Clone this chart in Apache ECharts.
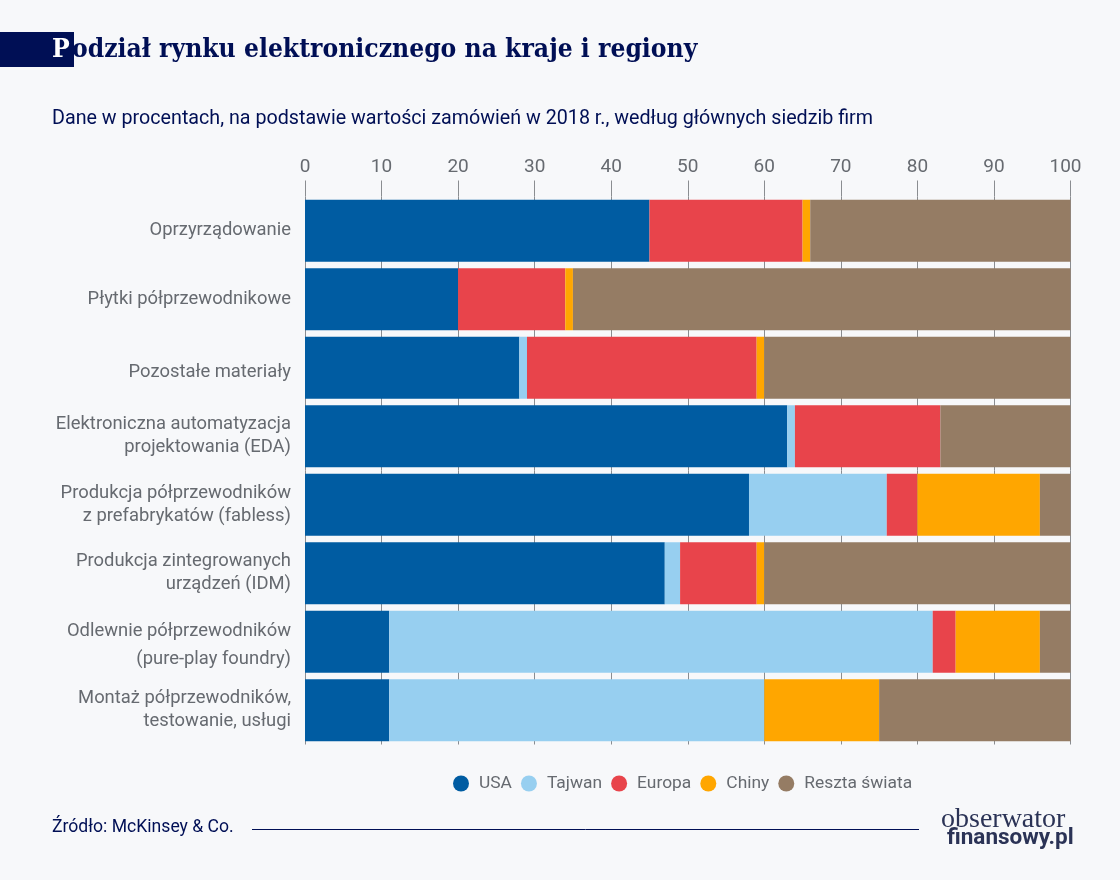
<!DOCTYPE html>
<html lang="pl">
<head>
<meta charset="utf-8">
<title>Podział rynku elektronicznego</title>
<script src="https://cdn.jsdelivr.net/npm/echarts@6/dist/echarts.min.js"></script>
<style>
  html, body { margin: 0; padding: 0; background: #f7f8fa; }
  #chart { width: 1120px; height: 880px; }
</style>
</head>
<body>
<div id="chart"></div>
<script>
// dane
const categories = [
  'Oprzyrządowanie',
  'Płytki półprzewodnikowe',
  'Pozostałe materiały',
  'Elektroniczna automatyzacja\nprojektowania (EDA)',
  'Produkcja półprzewodników\nz prefabrykatów (fabless)',
  'Produkcja zintegrowanych\nurządzeń (IDM)',
  'Odlewnie półprzewodników\n(pure-play foundry)',
  'Montaż półprzewodników,\ntestowanie, usługi'
];
const usa    = [45, 20, 28, 63, 58, 47, 11, 11];
const tajwan = [0, 0, 1, 1, 18, 2, 71, 49];
const europa = [20, 14, 30, 19, 4, 10, 3, 0];
const chiny  = [1, 1, 1, 0, 16, 1, 11, 15];
const reszta = [34, 65, 40, 17, 4, 40, 4, 25];

const SANS = 'Roboto, sans-serif';
const SERIF = '"DejaVu Serif Condensed", "DejaVu Serif", serif';
const NAVY = '#000f55';
const GREY = '#666a70';
const LABEL_SIZE = 18.4;

const makeSeries = (name, data, color) => ({
  name,
  type: 'bar',
  stack: 'total',
  barWidth: 62,
  data,
  itemStyle: { color },
  silent: true,
  animation: false
});

// etykiety osi: w oryginale dwie z nich stoją niżej niż środek słupka
const formatCategory = v => {
  if (v.startsWith('Odlewnie')) {
    const [a, b] = v.split('\n');
    return '{wideTop|' + a + '}\n{wide|' + b + '}';
  }
  if (v.startsWith('Pozostałe')) return '{low|' + v + '}';
  return '{norm|' + v.split('\n').join('}\n{norm|') + '}';
};

const labelRich = (lineHeight, padding) => ({
  fontFamily: SANS, fontSize: LABEL_SIZE, lineHeight, color: GREY, padding
});

const chart = echarts.init(document.getElementById('chart'), null, { renderer: 'canvas' });

chart.setOption({
  backgroundColor: '#f7f8fa',
  animation: false,
  grid: { left: 305, right: 49.5, top: 196.5, height: 548 },
  legend: {
    top: 770,
    left: 448,
    itemWidth: 16,
    itemHeight: 16,
    itemGap: 9,
    icon: 'circle',
    textStyle: { fontFamily: SANS, fontSize: 17.4, color: GREY, padding: [0, 0, 0, 5] },
    data: ['USA', 'Tajwan', 'Europa', 'Chiny', 'Reszta świata']
  },
  xAxis: {
    type: 'value',
    position: 'top',
    min: 0,
    max: 100,
    interval: 10,
    axisLine: { show: false },
    axisTick: { show: true, length: 16, lineStyle: { color: '#8a8d91', width: 1 } },
    splitLine: { show: true, lineStyle: { color: '#8a8d91', width: 1 } },
    axisLabel: {
      margin: 20,
      fontFamily: SANS,
      fontSize: 19,
      color: GREY,
      hideOverlap: false,
      formatter: v => (v === 100 ? '{last|100}' : String(v)),
      rich: { last: { fontFamily: SANS, fontSize: 19, color: GREY, padding: [0, 10, 0, 0] } }
    }
  },
  yAxis: {
    type: 'category',
    inverse: true,
    data: categories,
    axisLine: { show: false },
    axisTick: { show: false },
    axisLabel: {
      margin: 14,
      fontFamily: SANS,
      fontSize: LABEL_SIZE,
      color: GREY,
      interval: 0,
      formatter: formatCategory,
      rich: {
        norm: labelRich(23),
        low: labelRich(23, [10, 0, 0, 0]),
        wideTop: labelRich(36, [8, 0, 0, 0]),
        wide: labelRich(28)
      }
    }
  },
  series: [
    makeSeries('USA', usa, '#005ca2'),
    makeSeries('Tajwan', tajwan, '#97cff0'),
    makeSeries('Europa', europa, '#e8444b'),
    makeSeries('Chiny', chiny, '#ffa600'),
    makeSeries('Reszta świata', reszta, '#957c64')
  ],
  graphic: [
    { type: 'rect', shape: { x: 0, y: 32, width: 74, height: 35 }, style: { fill: NAVY } },
    { type: 'text', x: 52, y: 50, style: { text: 'P', fill: '#fff', font: 'bold 26.2px ' + SERIF, textVerticalAlign: 'middle' } },
    { type: 'text', x: 72, y: 50, style: { text: 'odział rynku elektronicznego na kraje i regiony', fill: NAVY, font: 'bold 26.2px ' + SERIF, textVerticalAlign: 'middle' } },
    { type: 'text', x: 52, y: 119, style: { text: 'Dane w procentach, na podstawie wartości zamówień w 2018 r., według głównych siedzib firm', fill: NAVY, font: '19.7px ' + SANS, textVerticalAlign: 'middle' } },
    { type: 'text', x: 52, y: 828, style: { text: 'Źródło: McKinsey & Co.', fill: NAVY, font: '17.6px ' + SANS, textVerticalAlign: 'middle' } },
    { type: 'line', shape: { x1: 252, y1: 829.5, x2: 919, y2: 829.5 }, style: { stroke: NAVY, lineWidth: 1 } },
    { type: 'text', x: 941, y: 820, style: { text: 'obserwator', fill: '#2b3356', font: '28px "Liberation Serif", serif', textVerticalAlign: 'middle' } },
    { type: 'text', x: 947, y: 838, style: { text: 'finansowy.pl', fill: '#2b3356', font: 'bold 22.5px ' + SANS, textVerticalAlign: 'middle' } }
  ]
});
</script>
</body>
</html>
